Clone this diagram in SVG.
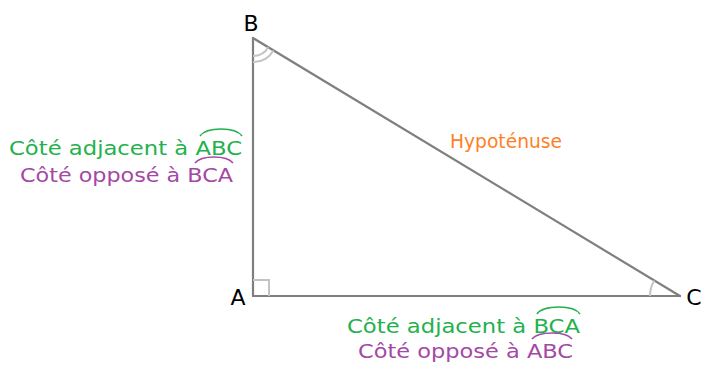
<svg xmlns="http://www.w3.org/2000/svg" width="704" height="365" viewBox="0 0 704 365">
<style>
.edge{stroke:#7f7f7f;stroke-width:2.2;fill:none;stroke-linecap:round}
.mark{stroke:#c3c3c3;stroke-width:2;fill:none}
.vx{font-family:"DejaVu Sans","Open Sans",sans-serif;font-size:22px;fill:#000}
.lb{font-family:"DejaVu Sans","Open Sans",sans-serif;font-size:19px}
.g{fill:#22b14c}.p{fill:#a349a4}.o{fill:#ff7f27}
.hg{stroke:#22b14c;stroke-width:1.6;fill:none}
.hp{stroke:#a349a4;stroke-width:1.6;fill:none}
</style>
<rect width="704" height="365" fill="#fff"/>
<g id="connectors">
<line class="edge" x1="253" y1="38" x2="253" y2="296"/>
<line class="edge" x1="253" y1="296" x2="680" y2="296"/>
<line class="edge" x1="253" y1="38" x2="680" y2="296"/>
</g>
<g id="marks">
<path class="mark" d="M253 280 H269 V296"/>
<path class="mark" d="M253 56 A18 18 0 0 0 268.4 47.3"/>
<path class="mark" d="M253 62 A24 24 0 0 0 273.5 50.4"/>
<path class="mark" d="M650 296 A30 30 0 0 1 654.3 280.5"/>
</g>
<g id="node-A"><text class="vx" x="238" y="305" text-anchor="middle">A</text></g>
<g id="node-B"><text class="vx" x="251" y="31" text-anchor="middle">B</text></g>
<g id="node-C"><text class="vx" x="694" y="305" text-anchor="middle">C</text></g>
<g id="label-hyp"><text class="lb o" x="450" y="148" textLength="112" lengthAdjust="spacingAndGlyphs">Hypoténuse</text></g>
<g id="label-left">
<text class="lb g" x="9" y="155" textLength="233" lengthAdjust="spacingAndGlyphs">Côté adjacent à ABC</text>
<path class="hg" d="M200 136 Q205 129 221 129 Q237 129 242 136"/>
<text class="lb p" x="20" y="182" textLength="213" lengthAdjust="spacingAndGlyphs">Côté opposé à BCA</text>
<path class="hp" d="M195 163 Q200 157 214 157 Q228 157 233 163"/>
</g>
<g id="label-bottom">
<text class="lb g" x="347" y="333" textLength="233" lengthAdjust="spacingAndGlyphs">Côté adjacent à BCA</text>
<path class="hg" d="M537 314 Q542 307 559 307 Q575 307 580 314"/>
<text class="lb p" x="358" y="358" textLength="215" lengthAdjust="spacingAndGlyphs">Côté opposé à ABC</text>
<path class="hp" d="M532 339 Q537 333 552 333 Q567 333 572 339"/>
</g>
</svg>
